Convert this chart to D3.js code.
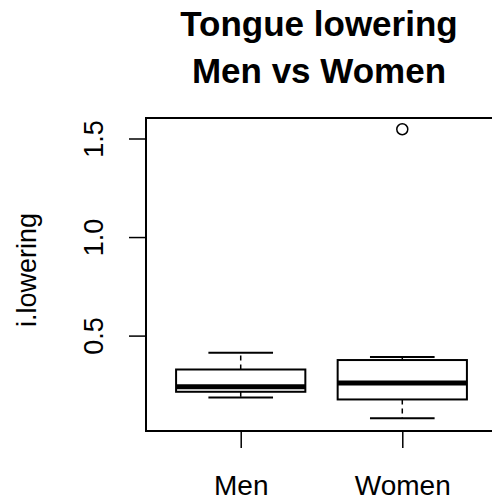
<!DOCTYPE html>
<html><head><meta charset="utf-8">
<script src="https://cdn.jsdelivr.net/npm/d3@7"></script>
<style>body{margin:0;background:#fff}svg{display:block}text{font-family:"Liberation Sans",Arial,sans-serif;fill:#000}</style>
</head><body><svg id="c" width="492" height="500"></svg>
<script>
const categories = ["Men", "Women"];
const whiskerLow = [0.186, 0.081];
const q1 = [0.215, 0.176];
const median = [0.240, 0.260];
const q3 = [0.328, 0.376];
const whiskerHigh = [0.413, 0.392];
const outliers = [[], [1.547]];
const yTicks = [0.5, 1.0, 1.5];
const yTickLabels = ["0.5", "1.0", "1.5"];
const titleLines = ["Tongue lowering", "Men vs Women"];
const yLabel = "i.lowering";

const svg = d3.select("#c");
const L = 146, R = 500, T = 118, B = 431;
const x = d3.scaleLinear().domain([0.42, 2.58]).range([L + 1, 496]);
const y = d3.scaleLinear().domain([0.016, 1.604]).range([B, T]);

// title
svg.selectAll("text.title").data(titleLines).join("text")
  .attr("class", "title").attr("x", 319).attr("y", (d, i) => 36 + i * 47)
  .attr("text-anchor", "middle").style("font-weight", "bold").style("font-size", "35px").text(d => d);

// y axis
const yAxis = d3.axisLeft(y).tickValues(yTicks).tickSize(17).tickFormat((d, i) => yTickLabels[i]);
const ga = svg.append("g").attr("transform", `translate(${L},0)`).call(yAxis);
ga.select(".domain").remove();
ga.selectAll(".tick line").attr("stroke", "#000").attr("stroke-width", 1.5);
ga.selectAll(".tick text").attr("x", 0).attr("dy", 0).attr("transform", "translate(-43,0) rotate(-90)")
  .attr("text-anchor", "middle").style("font-size", "27px").style("font-family", "Liberation Sans, Arial, sans-serif");

// x axis
const xAxis = d3.axisBottom(x).tickValues([1, 2]).tickSize(17).tickFormat((d, i) => categories[i]);
const gx = svg.append("g").attr("transform", `translate(0,${B})`).call(xAxis);
gx.select(".domain").remove();
gx.selectAll(".tick line").attr("stroke", "#000").attr("stroke-width", 1.5);
gx.selectAll(".tick text").attr("y", 64).attr("dy", 0).style("font-size", "28px").style("font-family", "Liberation Sans, Arial, sans-serif");

// y label
svg.append("text").attr("transform", "translate(36,270) rotate(-90)").attr("text-anchor", "middle")
  .style("font-size", "27px").text(yLabel);

// boxes
const g = svg.append("g");
categories.forEach((c, i) => {
  const cx = x(i + 1), hw = x(1.4) - x(1), sw = x(1.2) - x(1);
  g.append("line").attr("x1", cx).attr("x2", cx).attr("y1", y(q3[i])).attr("y2", y(whiskerHigh[i]))
    .attr("stroke", "#000").attr("stroke-width", 1.5).attr("stroke-dasharray", "5,4");
  g.append("line").attr("x1", cx).attr("x2", cx).attr("y1", y(q1[i])).attr("y2", y(whiskerLow[i]))
    .attr("stroke", "#000").attr("stroke-width", 1.5).attr("stroke-dasharray", "5,4");
  [whiskerHigh[i], whiskerLow[i]].forEach(v => g.append("line").attr("x1", cx - sw).attr("x2", cx + sw)
    .attr("y1", y(v)).attr("y2", y(v)).attr("stroke", "#000").attr("stroke-width", 2));
  g.append("rect").attr("x", cx - hw).attr("width", 2 * hw).attr("y", y(q3[i])).attr("height", y(q1[i]) - y(q3[i]))
    .attr("fill", "#fff").attr("stroke", "#000").attr("stroke-width", 2);
  g.append("line").attr("x1", cx - hw).attr("x2", cx + hw).attr("y1", y(median[i])).attr("y2", y(median[i]))
    .attr("stroke", "#000").attr("stroke-width", 5);
  outliers[i].forEach(v => g.append("circle").attr("cx", cx).attr("cy", y(v)).attr("r", 5.5)
    .attr("fill", "none").attr("stroke", "#000").attr("stroke-width", 1.5));
});

// frame
svg.append("rect").attr("x", L).attr("y", T).attr("width", R - L).attr("height", B - T)
  .attr("fill", "none").attr("stroke", "#000").attr("stroke-width", 2);
</script></body></html>
